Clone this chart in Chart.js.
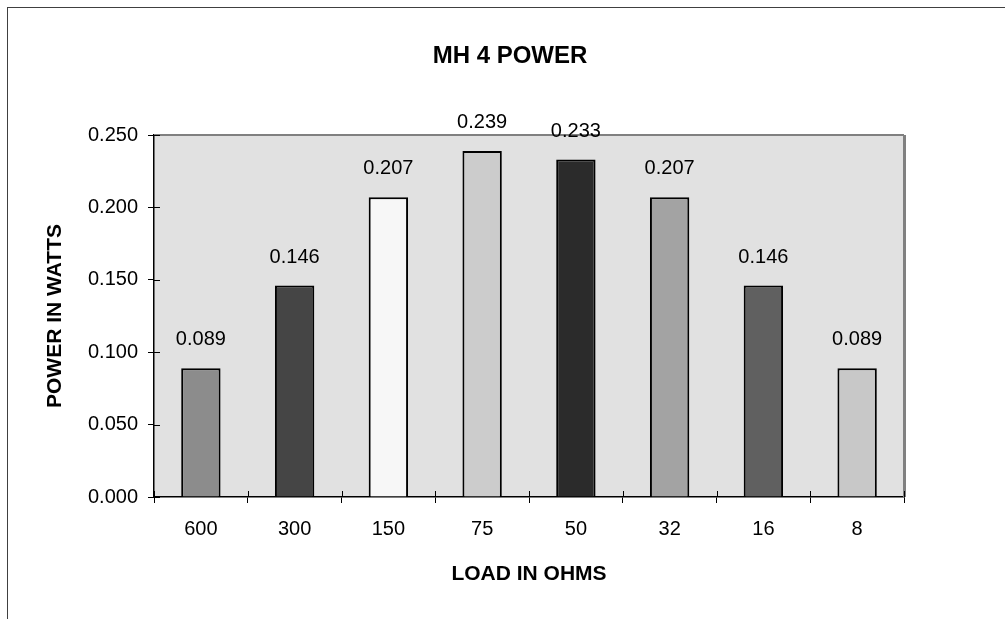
<!DOCTYPE html>
<html>
<head>
<meta charset="utf-8">
<script src="https://cdn.jsdelivr.net/npm/chart.js@4.4.1/dist/chart.umd.min.js"></script>
<style>
  html, body { margin: 0; padding: 0; background: #fff; }
  #wrap { width: 1005px; height: 619px; position: relative; }
</style>
</head>
<body>
<div id="wrap"><canvas id="powerChart"></canvas></div>
<script>
// data
const loads = ['600', '300', '150', '75', '50', '32', '16', '8'];
const powerWatts = [0.089, 0.146, 0.207, 0.239, 0.233, 0.207, 0.146, 0.089];
const barColors = ['#8c8c8c', '#454545', '#f7f7f7', '#cccccc', '#2b2b2b', '#a3a3a3', '#606060', '#c8c8c8'];
const yTicks = [0, 0.05, 0.1, 0.15, 0.2, 0.25];

const FONT = '"Liberation Sans", Arial, sans-serif';

// frame, grey plot area, title, value labels
const framePlugin = {
    id: 'frame',
    beforeDraw(chart) {
        const ctx = chart.ctx;
        const a = chart.chartArea;
        ctx.save();
        ctx.fillStyle = '#fff';
        ctx.fillRect(0, 0, chart.width, chart.height);
        ctx.strokeStyle = '#404040';
        ctx.lineWidth = 1;
        ctx.strokeRect(7.5, 7.5, 1200, 1200);
        ctx.fillStyle = '#e1e1e1';
        ctx.fillRect(a.left, a.top, a.right - a.left, a.bottom - a.top);
        ctx.restore();
    },
    afterDatasetsDraw(chart) {
        const ctx = chart.ctx;
        const a = chart.chartArea;
        const x = chart.scales.x, y = chart.scales.y;
        ctx.save();
        // top and right edge of plot area
        ctx.strokeStyle = '#808080';
        ctx.lineWidth = 2;
        ctx.beginPath();
        ctx.moveTo(a.left, a.top);
        ctx.lineTo(a.right, a.top);
        ctx.stroke();
        ctx.lineWidth = 3;
        ctx.beginPath();
        ctx.moveTo(a.right + 0.5, a.top);
        ctx.lineTo(a.right + 0.5, a.bottom);
        ctx.stroke();
        // inner halves of tick marks
        ctx.strokeStyle = '#000';
        ctx.lineWidth = 1;
        ctx.beginPath();
        yTicks.forEach(v => {
            const py = Math.round(y.getPixelForValue(v)) + 0.5;
            ctx.moveTo(a.left, py);
            ctx.lineTo(a.left + 6, py);
        });
        for (let i = 0; i <= loads.length; i++) {
            const px = Math.round(x.getPixelForValue(i - 0.5)) + 0.5;
            ctx.moveTo(px, a.bottom);
            ctx.lineTo(px, a.bottom - 6);
        }
        ctx.stroke();
        // value labels
        ctx.fillStyle = '#000';
        ctx.font = '20px ' + FONT;
        ctx.textAlign = 'center';
        ctx.textBaseline = 'alphabetic';
        const meta = chart.getDatasetMeta(0);
        meta.data.forEach((bar, i) => {
            ctx.fillText(powerWatts[i].toFixed(3), bar.x, bar.y - 23);
        });
        // chart title
        ctx.font = 'bold 24px ' + FONT;
        ctx.textBaseline = 'middle';
        ctx.fillText('MH 4 POWER', 510, 56);
        ctx.restore();
    }
};

const ctx = document.getElementById('powerChart').getContext('2d');
const chartInstance = new Chart(ctx, {
    type: 'bar',
    data: {
        labels: loads,
        datasets: [{
            data: powerWatts,
            backgroundColor: barColors,
            borderColor: '#000',
            borderWidth: 2,
            categoryPercentage: 1,
            barPercentage: 0.42
        }]
    },
    options: {
        responsive: true,
        maintainAspectRatio: false,
        animation: false,
        devicePixelRatio: 1,
        layout: { padding: { top: 135, right: 101, left: 0, bottom: 0 } },
        plugins: {
            legend: { display: false },
            tooltip: { enabled: false },
            title: { display: false }
        },
        scales: {
            x: {
                grid: { display: true, drawOnChartArea: false, offset: true, color: '#000', tickLength: 6 },
                border: { color: '#000', width: 1.5 },
                ticks: { color: '#000', font: { family: FONT, size: 20 }, padding: 14, maxRotation: 0 },
                title: { display: true, text: 'LOAD IN OHMS', color: '#000', font: { family: FONT, size: 21, weight: 'bold' }, padding: { top: 0, bottom: 32 } },
                afterFit(scale) { scale.height = 122; }
            },
            y: {
                min: 0,
                max: 0.25,
                grid: { display: true, drawOnChartArea: false, color: '#000', tickLength: 6 },
                border: { color: '#000', width: 1.5 },
                ticks: {
                    stepSize: 0.05,
                    color: '#000',
                    font: { family: FONT, size: 20 },
                    padding: 10,
                    callback: v => v.toFixed(3)
                },
                afterBuildTicks(scale) { scale.ticks = yTicks.map(v => ({ value: v })); },
                title: { display: true, text: 'POWER IN WATTS', color: '#000', font: { family: FONT, size: 21, weight: 'bold' }, padding: { top: 43, bottom: 0 } },
                afterFit(scale) { scale.width = 154; }
            }
        }
    },
    plugins: [framePlugin]
});
</script>
</body>
</html>
